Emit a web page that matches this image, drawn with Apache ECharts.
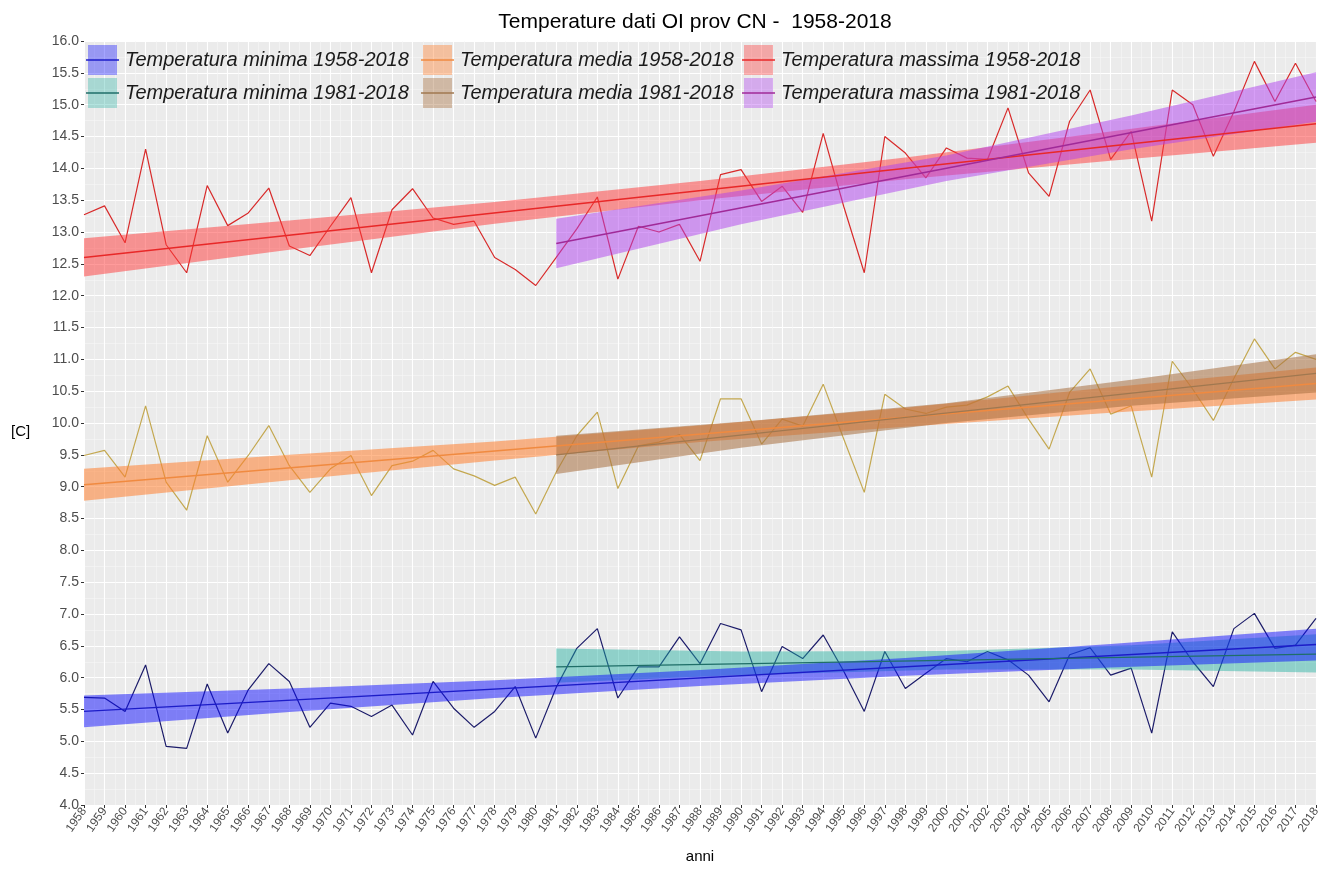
<!DOCTYPE html>
<html>
<head>
<meta charset="utf-8">
<script src="https://cdn.jsdelivr.net/npm/echarts@6/dist/echarts.min.js"></script>
<style>
html,body{margin:0;padding:0;background:#fff;}
#chart{width:1326px;height:869px;}
</style>
</head>
<body>
<div id="chart"></div>
<script>
// ---- data ----
const years = [1958,1959,1960,1961,1962,1963,1964,1965,1966,1967,1968,1969,1970,1971,1972,1973,1974,1975,1976,1977,1978,1979,1980,1981,1982,1983,1984,1985,1986,1987,1988,1989,1990,1991,1992,1993,1994,1995,1996,1997,1998,1999,2000,2001,2002,2003,2004,2005,2006,2007,2008,2009,2010,2011,2012,2013,2014,2015,2016,2017,2018];

const tMax = [13.27,13.41,12.83,14.30,12.80,12.36,13.73,13.10,13.30,13.69,12.78,12.63,13.09,13.54,12.36,13.35,13.68,13.22,13.12,13.17,12.60,12.41,12.16,12.60,13.05,13.55,12.26,13.09,13.00,13.12,12.54,13.90,13.98,13.48,13.72,13.31,14.55,13.40,12.36,14.50,14.24,13.85,14.32,14.16,14.14,14.95,13.93,13.56,14.74,15.23,14.14,14.58,13.17,15.23,15.00,14.19,14.89,15.68,15.05,15.65,15.05];

const tMed = [9.49,9.57,9.15,10.27,9.07,8.63,9.80,9.07,9.49,9.96,9.33,8.91,9.28,9.49,8.86,9.33,9.40,9.57,9.28,9.17,9.02,9.15,8.57,9.23,9.80,10.17,8.97,9.64,9.70,9.82,9.41,10.38,10.38,9.67,10.06,9.95,10.61,9.75,8.91,10.45,10.22,10.15,10.25,10.28,10.41,10.58,10.06,9.59,10.48,10.85,10.14,10.27,9.15,10.97,10.53,10.04,10.70,11.32,10.85,11.11,11.00];

const tMin = [5.69,5.68,5.47,6.20,4.92,4.89,5.90,5.13,5.81,6.22,5.94,5.22,5.60,5.55,5.39,5.57,5.10,5.94,5.52,5.22,5.47,5.86,5.05,5.85,6.46,6.77,5.68,6.17,6.17,6.64,6.22,6.85,6.75,5.78,6.49,6.30,6.67,6.10,5.47,6.41,5.83,6.07,6.30,6.25,6.41,6.28,6.04,5.62,6.36,6.47,6.04,6.15,5.13,6.72,6.25,5.86,6.77,7.01,6.46,6.51,6.93];

// trend lines (start / end values)
const trendYearsFull = [1958, 2018];
const trendYearsRecent = [1981, 2018];
const trendMin58 = [5.47, 6.52];
const trendMin81 = [6.17, 6.37];
const trendMed58 = [9.03, 10.62];
const trendMed81 = [9.50, 10.78];
const trendMax58 = [12.60, 14.70];
const trendMax81 = [12.82, 15.12];

// confidence bands (lower / upper)
const bandYearsFull = [1958, 1968, 1978, 1988, 1998, 2008, 2018];
const bandYearsRecent = [1981, 1990, 2000, 2009, 2018];
const bandMin58Lo = [5.22, 5.46, 5.68, 5.87, 6.03, 6.16, 6.27];
const bandMin58Hi = [5.72, 5.83, 5.96, 6.12, 6.31, 6.53, 6.77];
const bandMin81Lo = [5.92, 6.04, 6.13, 6.13, 6.08];
const bandMin81Hi = [6.46, 6.41, 6.42, 6.51, 6.68];
const bandMed58Lo = [8.78, 9.10, 9.41, 9.70, 9.94, 10.16, 10.37];
const bandMed58Hi = [9.28, 9.50, 9.71, 9.96, 10.24, 10.56, 10.87];
const bandMed81Lo = [9.20, 9.61, 10.00, 10.27, 10.48];
const bandMed81Hi = [9.80, 10.02, 10.31, 10.68, 11.08];
const bandMax58Lo = [12.30, 12.72, 13.13, 13.50, 13.83, 14.12, 14.40];
const bandMax58Hi = [12.90, 13.18, 13.47, 13.80, 14.17, 14.58, 15.00];
const bandMax81Lo = [12.43, 13.12, 13.80, 14.30, 14.73];
const bandMax81Hi = [13.21, 13.65, 14.20, 14.83, 15.51];

const legendLabels = [
  'Temperatura minima 1958-2018', 'Temperatura media 1958-2018', 'Temperatura massima 1958-2018',
  'Temperatura minima 1981-2018', 'Temperatura media 1981-2018', 'Temperatura massima 1981-2018'
];
const titleText = 'Temperature dati OI prov CN -  1958-2018';

// ---- styles ----
const FONT = '"Liberation Sans", Arial, sans-serif';
const st = {
  min58: {band: '#1010ff', op: 0.5, line: '#1c1cc8'},
  min81: {band: '#20b0a0', op: 0.45, line: '#1f6e68'},
  med58: {band: '#ff8030', op: 0.55, line: '#f08a40'},
  med81: {band: '#a87040', op: 0.55, line: '#a07850'},
  max58: {band: '#ff3838', op: 0.5, line: '#e82828'},
  max81: {band: '#b040f0', op: 0.5, line: '#a02a98'}
};

function pairs(xs, ys) { return xs.map((x, i) => [x, ys[i]]); }

function dataLine(name, vals, color) {
  return {
    type: 'line', name, data: pairs(years, vals), symbol: 'none', z: 2,
    lineStyle: {color, width: 1.2}, silent: true, animation: false
  };
}
function trendLine(name, xs, vals, color) {
  return {
    type: 'line', name, data: pairs(xs, vals), symbol: 'none', z: 5,
    lineStyle: {color, width: 1.4}, silent: true, animation: false
  };
}
function band(name, xs, lo, hi, s) {
  return {
    type: 'custom', name, z: 4, silent: true, animation: false,
    data: xs.map((x, i) => [x, lo[i], hi[i]]),
    encode: {x: 0, y: [1, 2]},
    renderItem: function (params, api) {
      if (params.dataIndex !== 0) return null;
      const pts = [];
      for (let i = 0; i < xs.length; i++) pts.push(api.coord([xs[i], hi[i]]));
      for (let i = xs.length - 1; i >= 0; i--) pts.push(api.coord([xs[i], lo[i]]));
      return {type: 'polygon', shape: {points: pts}, style: {fill: s.band, opacity: s.op}};
    }
  };
}

// legend graphic
const legendKeys = [st.min58, st.med58, st.max58, st.min81, st.med81, st.max81];
const colX = [88, 423, 744];
const rowY = [45, 78];
const legendEls = [];
legendKeys.forEach((s, i) => {
  const cx = colX[i % 3], cy = rowY[Math.floor(i / 3)];
  legendEls.push({type: 'rect', left: cx, top: cy, shape: {width: 29, height: 30},
    style: {fill: s.band, opacity: s.op * 0.75}, z: 100});
  legendEls.push({type: 'line', shape: {x1: cx - 2, y1: cy + 15, x2: cx + 31, y2: cy + 15},
    style: {stroke: s.line, lineWidth: 1.4}, z: 101});
  legendEls.push({type: 'text', left: cx + 37, top: cy + 5,
    style: {text: legendLabels[i], font: 'italic 20px ' + FONT, fill: '#1a1a1a'}, z: 101});
});
legendEls.push({type: 'text', left: 11, top: 424, style: {text: '[C]', font: '15px ' + FONT, fill: '#000'}});

const chart = echarts.init(document.getElementById('chart'), null, {renderer: 'canvas'});
chart.setOption({
  animation: false,
  backgroundColor: '#ffffff',
  title: {
    text: titleText, left: 690, top: 7, textAlign: 'center',
    textStyle: {fontFamily: FONT, fontSize: 21, fontWeight: 'normal', color: '#000'}
  },
  grid: {left: 84, right: 10, top: 41, bottom: 61, show: true, backgroundColor: '#ebebeb', borderWidth: 0},
  xAxis: {
    type: 'value', min: 1958, max: 2018, interval: 1,
    name: 'anni', nameLocation: 'middle', nameGap: 44,
    nameTextStyle: {fontFamily: FONT, fontSize: 15, color: '#000'},
    axisLine: {show: false},
    axisTick: {show: true, length: 3, lineStyle: {color: '#333'}},
    axisLabel: {rotate: 55, fontFamily: FONT, fontSize: 12, color: '#4d4d4d', margin: 4,
      formatter: v => String(v)},
    splitLine: {show: true, lineStyle: {color: '#ffffff', width: 1.1}},
    minorTick: {show: false, splitNumber: 2},
    minorSplitLine: {show: true, lineStyle: {color: '#f7f7f7', width: 0.6}}
  },
  yAxis: {
    type: 'value', min: 4, max: 16, interval: 0.5,
    axisLine: {show: false},
    axisTick: {show: true, length: 3, lineStyle: {color: '#333'}},
    axisLabel: {fontFamily: FONT, fontSize: 14, color: '#4d4d4d', margin: 5,
      formatter: v => v.toFixed(1)},
    splitLine: {show: true, lineStyle: {color: '#ffffff', width: 1.1}},
    minorTick: {show: false, splitNumber: 2},
    minorSplitLine: {show: true, lineStyle: {color: '#f7f7f7', width: 0.6}}
  },
  graphic: legendEls,
  series: [
    dataLine('Tmin', tMin, '#1c1c6a'),
    dataLine('Tmed', tMed, '#c4a850'),
    dataLine('Tmax', tMax, '#d82a2a'),
    band('bandMin81', bandYearsRecent, bandMin81Lo, bandMin81Hi, st.min81),
    band('bandMin58', bandYearsFull, bandMin58Lo, bandMin58Hi, st.min58),
    band('bandMed58', bandYearsFull, bandMed58Lo, bandMed58Hi, st.med58),
    band('bandMed81', bandYearsRecent, bandMed81Lo, bandMed81Hi, st.med81),
    band('bandMax58', bandYearsFull, bandMax58Lo, bandMax58Hi, st.max58),
    band('bandMax81', bandYearsRecent, bandMax81Lo, bandMax81Hi, st.max81),
    trendLine('trendMin58', trendYearsFull, trendMin58, st.min58.line),
    trendLine('trendMin81', trendYearsRecent, trendMin81, st.min81.line),
    trendLine('trendMed58', trendYearsFull, trendMed58, st.med58.line),
    trendLine('trendMed81', trendYearsRecent, trendMed81, st.med81.line),
    trendLine('trendMax58', trendYearsFull, trendMax58, st.max58.line),
    trendLine('trendMax81', trendYearsRecent, trendMax81, st.max81.line)
  ]
});
</script>
</body>
</html>
